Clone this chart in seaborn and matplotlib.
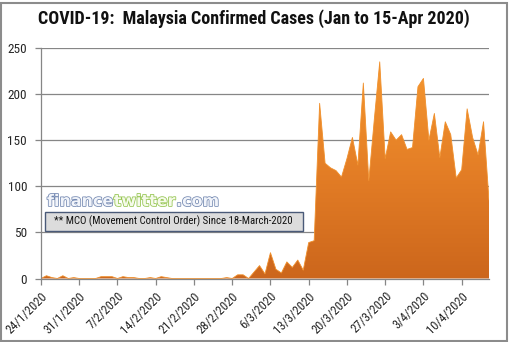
import numpy as np
import pandas as pd
import matplotlib
matplotlib.use("Agg")
import matplotlib.pyplot as plt
import matplotlib.dates as mdates
import matplotlib.patheffects as pe
from matplotlib import font_manager
from matplotlib.font_manager import FontProperties
from matplotlib.patches import Rectangle, Polygon
import seaborn as sns

# Daily new confirmed cases, 24 Jan - 15 Apr 2020
start_date = "2020-01-24"
end_date = "2020-04-15"
cases_jan = [0, 3, 1, 0, 3, 0, 1, 0]                     # 24-31 Jan
cases_feb = [0, 0, 0, 2, 2, 2, 0, 2, 1, 1, 0, 0, 1, 0,   # 1-14 Feb
             2, 1, 0, 0, 0, 0, 0, 0, 0, 0, 0, 0, 1, 0, 4]  # 15-29 Feb
cases_mar = [4, 0, 7, 14, 5, 28, 10, 6, 18, 12, 20, 9, 39, 41, 190,
             125, 120, 117, 110, 130, 153, 123, 212, 106, 172, 235,
             130, 159, 150, 156, 140]                     # 1-31 Mar
cases_apr = [142, 208, 217, 150, 179, 131, 170, 156, 109, 118,
             184, 153, 134, 170, 85]                      # 1-15 Apr
tick_labels = ["24/1/2020", "31/1/2020", "7/2/2020", "14/2/2020",
               "21/2/2020", "28/2/2020", "6/3/2020", "13/3/2020",
               "20/3/2020", "27/3/2020", "3/4/2020", "10/4/2020"]
y_ticks = [0, 50, 100, 150, 200, 250]

title = "COVID-19:  Malaysia Confirmed Cases (Jan to 15-Apr 2020)"
note = "** MCO (Movement Control Order) Since 18-March-2020"

dates = pd.date_range(start_date, end_date, freq="D")
cases = np.array(cases_jan + cases_feb + cases_mar + cases_apr, dtype=float)
df = pd.DataFrame({"date": dates, "cases": cases})


def _is_bold(w):
    return w in ("bold", "heavy", "extra bold", "black") or (
        isinstance(w, int) and w >= 600)


def narrow_font(bold=False):
    """Find a narrow/condensed sans face, falling back to DejaVu Sans."""
    cands = [("Liberation Sans Narrow", None), ("Roboto Condensed", None),
             ("DejaVu Sans", "condensed"), ("DejaVu Sans", "semi-condensed")]
    for name, stretch in cands:
        for f in font_manager.fontManager.ttflist:
            if f.name != name or f.style != "normal":
                continue
            if stretch is not None and f.stretch != stretch:
                continue
            if _is_bold(f.weight) == bold:
                return FontProperties(fname=f.fname)
    return FontProperties(family="DejaVu Sans",
                          weight="bold" if bold else "normal")


fp_reg = narrow_font(False)
fp_bold = narrow_font(True)

sns.set_style("white")
plt.rcParams["font.family"] = ["DejaVu Sans"]

W, H = 510, 342
fig = plt.figure(figsize=(W / 100, H / 100), dpi=100)
ax = fig.add_axes([41 / W, 1 - 278.5 / H, (489 - 41) / W, (278.5 - 48) / H])

grid_col = "#868686"
for v in y_ticks[1:]:
    ax.axhline(v, color=grid_col, lw=0.9, zorder=1)

# top edge of the area
sns.lineplot(data=df, x="date", y="cases", ax=ax, color="#F0902C",
             lw=0.6, zorder=3)

# area with a vertical orange gradient
xnum = mdates.date2num(dates)
grad = np.linspace(0, 1, 256).reshape(-1, 1)
cmap = matplotlib.colors.LinearSegmentedColormap.from_list(
    "orng", ["#CC661C", "#E47E26", "#F5972F"])
img = ax.imshow(grad, cmap=cmap, origin="lower", aspect="auto",
                extent=[xnum[0], xnum[-1], 0, cases.max()], zorder=2)
verts = np.column_stack([np.r_[xnum[0], xnum, xnum[-1]],
                         np.r_[0, cases, 0]])
clip = Polygon(verts, closed=True, transform=ax.transData)
img.set_clip_path(clip)

ax.set_xlim(xnum[0], xnum[-1])
ax.set_ylim(0, 250)
ax.set_xlabel("")
ax.set_ylabel("")

tick_dates = mdates.date2num(pd.to_datetime(tick_labels, format="%d/%m/%Y"))
ax.set_xticks(tick_dates)
ax.set_xticklabels(tick_labels, rotation=45, ha="right",
                   rotation_mode="anchor")
ax.set_yticks(y_ticks)
ax.set_yticklabels([str(v) for v in y_ticks])
for lab in ax.get_xticklabels():
    lab.set_fontproperties(fp_reg)
    lab.set_fontsize(9)
for lab in ax.get_yticklabels():
    lab.set_fontproperties(fp_reg)
    lab.set_fontsize(9.5)
ax.tick_params(axis="x", direction="out", length=4, width=0.9,
               color=grid_col, pad=4)
ax.tick_params(axis="y", direction="out", length=4, width=0.9,
               color=grid_col, pad=6)
ax.tick_params(bottom=True, left=True)

for s in ["top", "right"]:
    ax.spines[s].set_visible(False)
for s in ["left", "bottom"]:
    ax.spines[s].set_color(grid_col)
    ax.spines[s].set_linewidth(0.9)
    ax.spines[s].set_zorder(4)

renderer = fig.canvas.get_renderer()


def fit_width(txt, target_px, size):
    txt.set_fontsize(size)
    w = txt.get_window_extent(renderer).width
    txt.set_fontsize(size * min(1.0, target_px / w))


# title
t_title = fig.text(254 / W, 1 - 18.5 / H, title, ha="center", va="center",
                   fontproperties=fp_bold, color="#111111")
fit_width(t_title, 432, 13)

# site name
wm_font = dict(fontsize=11.5, fontweight="bold", family="DejaVu Sans")
blue_edge = [pe.withStroke(linewidth=1.1, foreground="#7287B0")]
green_edge = [pe.withStroke(linewidth=1.1, foreground="#93C44E")]
t1 = fig.text(47 / W, 1 - 206 / H, "finance", ha="left", va="baseline",
              color="#F1F4FA", **wm_font, path_effects=blue_edge)
t2 = ax.annotate("twitter", xy=(1, 0), xycoords=t1, ha="left", va="bottom",
                 color="#F5FAEA", **wm_font, path_effects=green_edge)
t3 = ax.annotate(".com", xy=(1, 0), xycoords=t2, ha="left", va="bottom",
                 color="#F1F4FA", **wm_font, path_effects=blue_edge)

# note box
fig.patches.append(Rectangle((45 / W, 1 - 231 / H), 258 / W, 19 / H,
                             transform=fig.transFigure, facecolor="#DCDCDC",
                             edgecolor="#4A5A78", lw=1.0, zorder=5))
t_note = fig.text(54 / W, 1 - 221.5 / H, note, ha="left", va="center",
                  fontproperties=fp_reg, color="#111111", zorder=6)
fit_width(t_note, 238, 8.5)

# outer frame
fig.patches.append(Rectangle((1.5 / W, 1.5 / H), (W - 4) / W, (H - 4) / H,
                             transform=fig.transFigure, facecolor="none",
                             edgecolor="#8C8C8C", lw=1.5, zorder=10))

fig.savefig("out.png", dpi=100)
